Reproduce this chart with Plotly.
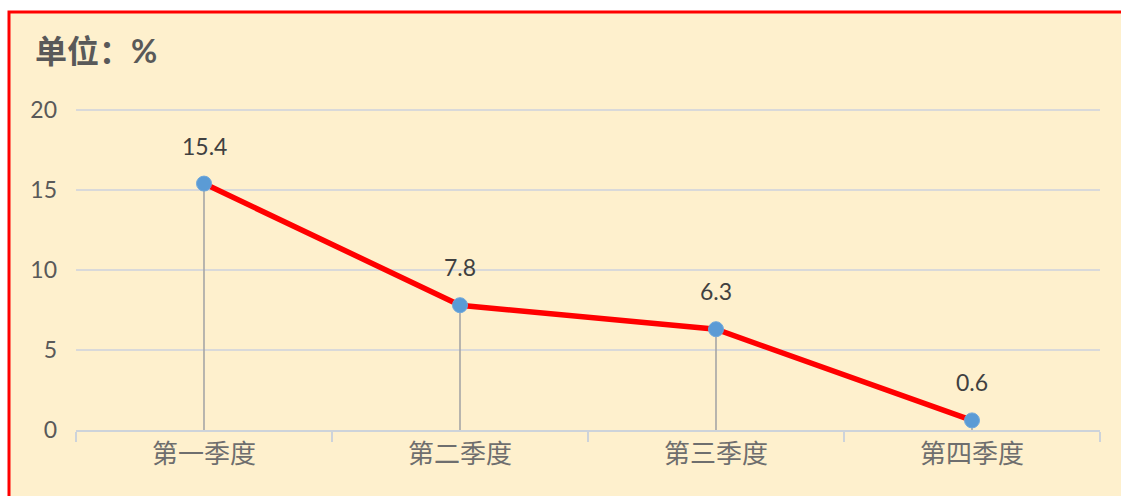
import plotly.graph_objects as go

quarters = ["第一季度", "第二季度", "第三季度", "第四季度"]
growth = [15.4, 7.8, 6.3, 0.6]
labels = ["15.4", "7.8", "6.3", "0.6"]
y_ticks = [0, 5, 10, 15, 20]

W, H = 1121, 496
ML, MR, MT, MB = 76, 21, 108, 66
PW, PH = W - ML - MR, H - MT - MB

BG = "#FEF0CD"
TXT = "#595959"
FONT = "Lato, Noto Sans CJK SC, sans-serif"

fig = go.Figure()

# drop lines from each point down to the axis
fig.add_trace(go.Scatter(
    x=quarters, y=growth, mode="markers",
    marker=dict(size=1, opacity=0),
    error_y=dict(type="data", symmetric=False, array=[0] * len(growth),
                 arrayminus=growth, color="#A6A6A6", thickness=1.6, width=0),
    hoverinfo="skip", showlegend=False,
))
fig.add_trace(go.Scatter(
    x=quarters, y=growth, mode="lines+markers",
    line=dict(color="#FF0000", width=5.5),
    marker=dict(color="#5B9BD5", size=15, line=dict(color="#6FA8DC", width=1)),
    showlegend=False,
))

for q, v, t in zip(quarters, growth, labels):
    fig.add_annotation(x=q, y=v, text=t, showarrow=False, yshift=38,
                       font=dict(size=23, color="#404040", family=FONT))

# panel background with red frame (top and left visible)
fig.add_shape(type="rect", xref="paper", yref="paper", layer="below",
              x0=(9 - ML) / PW, x1=(W + 20 - ML) / PW,
              y0=-(H + 20 - MT - PH) / PH, y1=(MT + PH - 12) / PH,
              fillcolor=BG, line=dict(color="#FF0000", width=3))

fig.update_layout(
    width=W, height=H,
    margin=dict(l=ML, r=MR, t=MT, b=MB),
    paper_bgcolor="white", plot_bgcolor="rgba(0,0,0,0)",
    font=dict(family=FONT, color=TXT),
    title=dict(text="<b>单位：%</b>", x=35 / W, xanchor="left",
               y=1 - 52 / H, yanchor="middle",
               font=dict(size=32, color=TXT, family=FONT)),
    xaxis=dict(type="category", showgrid=False, showline=True,
               linecolor="#CDD3DA", linewidth=1.5,
               ticks="outside", tickson="boundaries", ticklen=10,
               tickcolor="#CDD3DA", tickwidth=1.5,
               tickfont=dict(size=26, color="#6E6E6E", family="Noto Sans CJK SC"),
               range=[-0.5, 3.5], fixedrange=True),
    # small headroom so the top gridline at 20 is not clipped away
    yaxis=dict(range=[0, 20.125], tickvals=y_ticks, showgrid=True,
               gridcolor="#D9D9D9", gridwidth=1.5, zeroline=False,
               showline=False, ticks="", ticklabelstandoff=18,
               tickfont=dict(size=23, color=TXT, family=FONT)),
)

fig.write_html("out.html", config={"displayModeBar": False},
               post_script="document.body.style.margin='0';")
